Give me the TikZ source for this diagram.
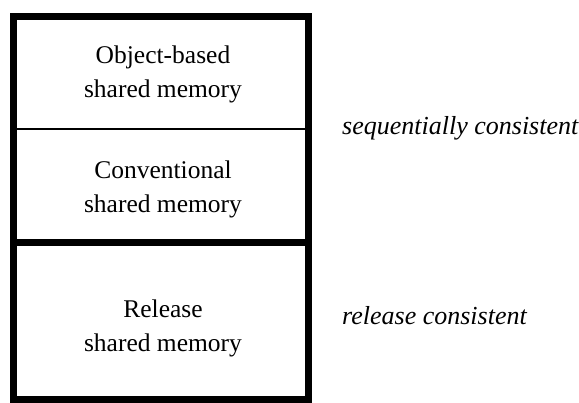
\documentclass[tikz,border=0pt]{standalone}
\usepackage{fontspec}
\setmainfont{Liberation Serif}
\usetikzlibrary{positioning}

\begin{document}
\begin{tikzpicture}[x=1pt,y=-1pt]
\tikzstyle{every node}+=[inner sep=0pt]
\tikzstyle{memtext}=[align=center,font=\fontsize{25.5}{33.5}\selectfont]
\tikzstyle{kindtext}=[anchor=base west,font=\fontsize{26}{30}\selectfont\itshape]
\useasboundingbox (0,0) rectangle (579,403);
% outer frame and dividers
\coordinate (tl) at (13.5,16.5);
\coordinate (br) at (308.5,399.5);
\coordinate (thinl) at (13.5,129);
\coordinate (thinr) at (308.5,129);
\coordinate (thickl) at (13.5,242.5);
\coordinate (thickr) at (308.5,242.5);
\draw [black,line width=7pt] (tl) rectangle (br);
\draw [black,line width=1.5pt] (thinl) -- (thinr);
\draw [black,line width=7pt] (thickl) -- (thickr);
% box texts
\node [memtext] (objmem) at (163,74.5) {Object-based\\shared memory};
\node [memtext] (convmem) at (163,189.5) {Conventional\\shared memory};
\node [memtext] (relmem) at (163,328.5) {Release\\shared memory};
% consistency labels
\node [kindtext] (seqcons) at (342,135) {sequentially consistent};
\node [kindtext] (relcons) at (342,325) {release consistent};
\end{tikzpicture}
\end{document}
